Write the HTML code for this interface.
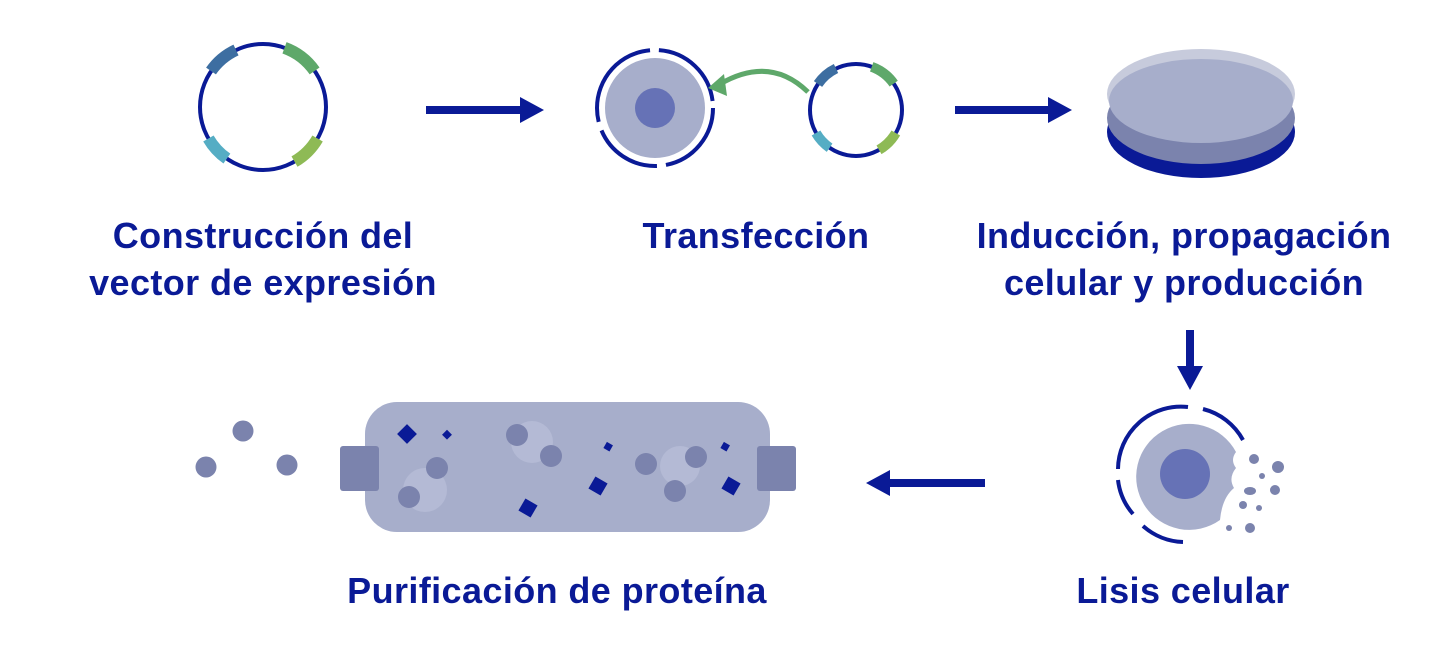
<!DOCTYPE html>
<html><head><meta charset="utf-8"><style>
body{margin:0;background:#fff;}
svg{display:block}
text{font-family:"Liberation Sans",sans-serif;font-weight:bold;fill:#0a1a96;font-size:36px;letter-spacing:0.4px;text-anchor:middle}
</style></head><body>
<svg width="1448" height="646" viewBox="0 0 1448 646">
<!-- plasmid 1 -->
<circle cx="263" cy="107" r="63" fill="none" stroke="#0a1a96" stroke-width="4"/>
<g stroke-width="12" fill="none">
<path d="M211 71 A63 63 0 0 1 236 50" stroke="#3d6ea1"/>
<path d="M284.5 47.8 A63 63 0 0 1 314.6 70.9" stroke="#5ea86a"/>
<path d="M226.9 158.6 A63 63 0 0 1 208.4 138.5" stroke="#55adc4"/>
<path d="M317.6 138.5 A63 63 0 0 1 294.5 161.6" stroke="#8eba55"/>
</g>
<!-- arrow 1 -->
<rect x="426" y="106" width="98" height="8" fill="#0a1a96"/>
<polygon points="520,97 544,110 520,123" fill="#0a1a96"/>
<!-- cell -->
<circle cx="655" cy="108" r="58" fill="none" stroke="#0a1a96" stroke-width="4" stroke-dasharray="80 9 70 9 100 9"/>
<circle cx="655" cy="108" r="50" fill="#a7aecb"/>
<circle cx="655" cy="108" r="20" fill="#6672b6"/>
<path d="M808 92 Q770 55 720 84" fill="none" stroke="#5ea86a" stroke-width="5"/>
<polygon points="708,88 724,74 727,96" fill="#5ea86a"/>
<!-- plasmid 2 -->
<circle cx="856" cy="110" r="46" fill="none" stroke="#0a1a96" stroke-width="4"/>
<g stroke-width="10" fill="none">
<path d="M818 84 A46 46 0 0 1 836 68.5" stroke="#3d6ea1"/>
<path d="M871.7 66.8 A46 46 0 0 1 893.7 83.6" stroke="#5ea86a"/>
<path d="M829.6 147.7 A46 46 0 0 1 816 133" stroke="#55adc4"/>
<path d="M895.8 133 A46 46 0 0 1 879 149.8" stroke="#8eba55"/>
</g>
<!-- arrow 2 -->
<rect x="955" y="106" width="98" height="8" fill="#0a1a96"/>
<polygon points="1048,97 1072,110 1048,123" fill="#0a1a96"/>
<!-- dish -->
<ellipse cx="1201" cy="132" rx="94" ry="46" fill="#0a1a96"/>
<ellipse cx="1201" cy="118" rx="94" ry="46" fill="#7b83ad"/>
<ellipse cx="1201" cy="94" rx="94" ry="45" fill="#c7cbdc"/>
<ellipse cx="1201" cy="101" rx="92" ry="42" fill="#a7aecb"/>
<!-- labels -->
<text x="263" y="248">Construcción del</text>
<text x="263" y="295">vector de expresión</text>
<text x="756" y="248">Transfección</text>
<text x="1184" y="248">Inducción, propagación</text>
<text x="1184" y="295">celular y producción</text>
<text x="557" y="603">Purificación de proteína</text>
<text x="1183" y="603">Lisis celular</text>
<!-- down arrow -->
<rect x="1186" y="330" width="8" height="40" fill="#0a1a96"/>
<polygon points="1177,366 1190,390 1203,366" fill="#0a1a96"/>
<!-- left arrow -->
<rect x="885" y="479" width="100" height="8" fill="#0a1a96"/>
<polygon points="890,470 866,483 890,496" fill="#0a1a96"/>
<!-- lysis cell -->
<path d="M1236 452 Q1230 460 1236 468 Q1228 478 1234 488 Q1222 498 1220 520 A53 53 0 1 1 1236 452 Z" fill="#a7aecb"/>
<circle cx="1185" cy="474" r="25" fill="#6672b6"/>
<g fill="none" stroke="#0a1a96" stroke-width="4">
<path d="M1118 469 A63 63 0 0 1 1188 407"/>
<path d="M1203 409 A63 63 0 0 1 1243 440"/>
<path d="M1133 514 A63 63 0 0 1 1118 480"/>
<path d="M1143 526 A63 63 0 0 0 1183 542"/>
</g>
<g fill="#7b83ad">
<circle cx="1254" cy="459" r="5"/><circle cx="1278" cy="467" r="6"/><circle cx="1262" cy="476" r="3"/>
<ellipse cx="1250" cy="491" rx="6" ry="4"/><circle cx="1275" cy="490" r="5"/><circle cx="1243" cy="505" r="4"/>
<circle cx="1259" cy="508" r="3"/><circle cx="1229" cy="528" r="3"/><circle cx="1250" cy="528" r="5"/>
</g>
<!-- column -->
<circle cx="243" cy="431" r="10.5" fill="#7b83ad"/>
<circle cx="206" cy="467" r="10.5" fill="#7b83ad"/>
<circle cx="287" cy="465" r="10.5" fill="#7b83ad"/>
<rect x="365" y="402" width="405" height="130" rx="32" fill="#a7aecb"/>
<rect x="340" y="446" width="39" height="45" rx="3" fill="#7b83ad"/>
<rect x="757" y="446" width="39" height="45" rx="3" fill="#7b83ad"/>
<g fill="#b4bad5">
<circle cx="425" cy="490" r="22"/><circle cx="532" cy="442" r="21"/><circle cx="680" cy="466" r="20"/>
</g>
<g fill="#7b83ad">
<circle cx="437" cy="468" r="11"/><circle cx="409" cy="497" r="11"/>
<circle cx="517" cy="435" r="11"/><circle cx="551" cy="456" r="11"/>
<circle cx="646" cy="464" r="11"/><circle cx="696" cy="457" r="11"/><circle cx="675" cy="491" r="11"/>
</g>
<g fill="#0a1a96">
<rect x="400" y="427" width="14" height="14" transform="rotate(45 407 434)"/>
<rect x="444" y="431" width="7" height="7" transform="rotate(45 447 434)"/>
<rect x="521" y="501" width="14" height="14" transform="rotate(30 528 508)"/>
<rect x="605" y="443" width="7" height="7" transform="rotate(30 608 446)"/>
<rect x="591" y="479" width="14" height="14" transform="rotate(30 598 486)"/>
<rect x="722" y="443" width="7" height="7" transform="rotate(30 725 446)"/>
<rect x="724" y="479" width="14" height="14" transform="rotate(30 731 486)"/>
</g>
</svg>
</body></html>
